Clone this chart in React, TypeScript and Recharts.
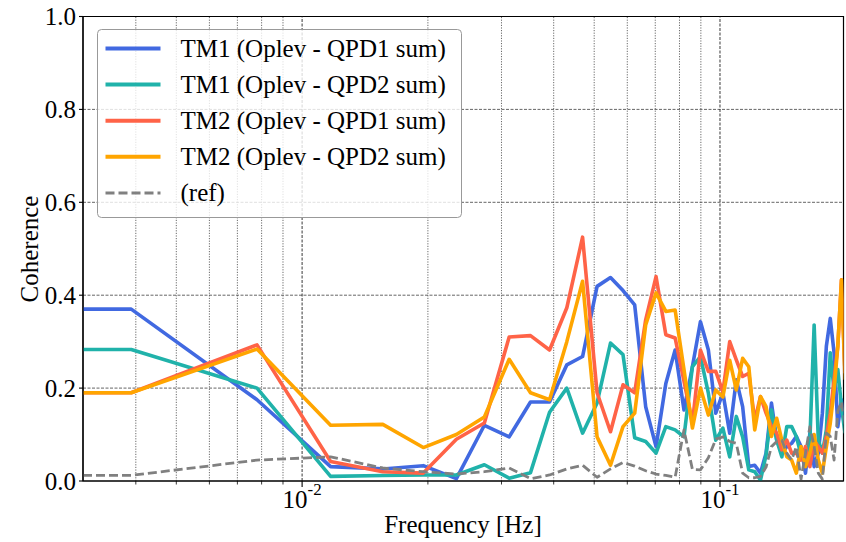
import React from "react";
import { LineChart, Line, XAxis, YAxis, CartesianGrid, ReferenceLine, ReferenceArea } from "recharts";

const FONT = "'Liberation Serif', serif";

// frequency bins (Hz); first entry is the left edge of the plot
const freqHz = [
  0.00299, 0.0039, 0.0078, 0.0117, 0.0156, 0.0195, 0.0234, 0.0273, 0.0313, 0.0352, 0.0391,
  0.043, 0.0469, 0.0508, 0.0547, 0.0586, 0.0625, 0.0664, 0.0703, 0.0742, 0.0781,
  0.082, 0.0859, 0.0898, 0.0938, 0.0977, 0.1016, 0.1055, 0.1094, 0.1133, 0.1172,
  0.1211, 0.125, 0.1289, 0.1328, 0.1367, 0.1406, 0.1445, 0.1484, 0.1523, 0.1563,
  0.1602, 0.1641, 0.168, 0.1719, 0.1758, 0.1797, 0.1836, 0.1875, 0.1914, 0.1953, 0.1992,
];

const tm1Qpd1 = [
  0.37, 0.37, 0.175, 0.031, 0.026, 0.033, 0.005, 0.12, 0.095, 0.17, 0.17,
  0.25, 0.268, 0.419, 0.438, 0.41, 0.379, 0.16, 0.074, 0.21, 0.282,
  0.153, 0.246, 0.343, 0.282, 0.146, 0.19, 0.103, 0.218, 0.16, 0.031,
  0.034, 0.017, 0.06, 0.168, 0.088, 0.06, 0.074, 0.081, 0.096, 0.074,
  0.017, 0.103, 0.031, 0.06, 0.146, 0.29, 0.35, 0.276, 0.117, 0.175, 0.131,
];

const tm1Qpd2 = [
  0.283, 0.283, 0.2, 0.01, 0.012, 0.013, 0.013, 0.035, 0.006, 0.018, 0.148,
  0.2, 0.103, 0.168, 0.297, 0.272, 0.093, 0.085, 0.06, 0.117, 0.11,
  0.095, 0.246, 0.268, 0.189, 0.088, 0.114, 0.052, 0.139, 0.095, 0.024,
  0.02, 0.002, 0.056, 0.153, 0.088, 0.052, 0.117, 0.117, 0.096, 0.056,
  0.042, 0.088, 0.336, 0.088, 0.06, 0.11, 0.276, 0.196, 0.24, 0.16, 0.103,
];

const tm2Qpd1 = [
  0.19, 0.19, 0.293, 0.042, 0.02, 0.017, 0.09, 0.125, 0.31, 0.313, 0.282,
  0.373, 0.525, 0.19, 0.106, 0.207, 0.19, 0.347, 0.44, 0.315, 0.308,
  0.215, 0.125, 0.282, 0.236, 0.236, 0.192, 0.3, 0.261, 0.225, 0.232,
  0.13, 0.182, 0.146, 0.117, 0.103, 0.067, 0.088, 0.06, 0.06, 0.045,
  0.074, 0.031, 0.088, 0.074, 0.06, 0.096, 0.146, 0.218, 0.29, 0.433, 0.232,
];

const tm2Qpd2 = [
  0.19, 0.19, 0.284, 0.12, 0.122, 0.072, 0.1, 0.138, 0.262, 0.19, 0.175,
  0.3, 0.43, 0.095, 0.034, 0.117, 0.146, 0.336, 0.405, 0.365, 0.368,
  0.24, 0.114, 0.2, 0.142, 0.196, 0.181, 0.26, 0.196, 0.264, 0.246,
  0.11, 0.182, 0.16, 0.096, 0.135, 0.088, 0.052, 0.045, 0.017, 0.074,
  0.031, 0.06, 0.1, 0.045, 0.017, 0.074, 0.124, 0.196, 0.29, 0.433, 0.218,
];

const refCoh = [
  0.012, 0.012, 0.045, 0.052, 0.028, 0.02, 0.015, 0.02, 0.028, 0.005, 0.013,
  0.026, 0.034, 0.008, 0.026, 0.04, 0.032, 0.022, 0.015, 0.012, 0.008,
  0.11, 0.025, 0.024, 0.05, 0.09, 0.095, 0.085, 0.081, 0.017, 0.007,
  0.007, 0.01, 0.03, 0.074, 0.085, 0.088, 0.06, 0.045, 0.074, 0.004,
  0.06, 0.117, 0.074, 0.017, 0.004, 0.103, 0.096, 0.045, 0.15, 0.17, 0.12,
];

const yTicks = [0, 0.2, 0.4, 0.6, 0.8, 1.0];
const yGridLines = [0.2, 0.4, 0.6, 0.8];
const xMajorTicks = [0.01, 0.1];
const xMinorTicks = [
  0.004, 0.005, 0.006, 0.007, 0.008, 0.009,
  0.02, 0.03, 0.04, 0.05, 0.06, 0.07, 0.08, 0.09,
];
const X_MIN = 0.00299;
const X_MAX = 0.1975;

const series = [
  { key: "tm1q1", name: "TM1 (Oplev - QPD1 sum)", color: "#4169E1", values: tm1Qpd1 },
  { key: "tm1q2", name: "TM1 (Oplev - QPD2 sum)", color: "#20B2AA", values: tm1Qpd2 },
  { key: "tm2q1", name: "TM2 (Oplev - QPD1 sum)", color: "#FF6347", values: tm2Qpd1 },
  { key: "tm2q2", name: "TM2 (Oplev - QPD2 sum)", color: "#FFA500", values: tm2Qpd2 },
  { key: "ref", name: "(ref)", color: "#808080", values: refCoh, dashed: true },
];

const data = freqHz.map((f, i) => {
  const row: Record<string, number> = { f };
  series.forEach((s) => (row[s.key] = s.values[i]));
  return row;
});

const textStyle = { fontFamily: FONT, fontSize: 25, fill: "#000" };

function XTick(props: any) {
  const { x, y, payload } = props;
  const v = payload.value;
  const major = xMajorTicks.includes(v);
  const exp = Math.round(Math.log10(v));
  return (
    <g>
      <line x1={x} x2={x} y1={y} y2={y + (major ? 6 : 3.5)} stroke="#000" strokeWidth={major ? 1.1 : 0.8} />
      {major && (
        <text x={x} y={y + 27} textAnchor="middle" style={textStyle}>
          10
          <tspan dy={-13} style={{ fontSize: 17 }}>
            {`-${Math.abs(exp)}`}
          </tspan>
        </text>
      )}
    </g>
  );
}

function Legend() {
  return (
    <svg
      width={366}
      height={190}
      style={{ position: "absolute", left: 96.5, top: 28.8, overflow: "visible" }}
    >
      <rect x={0.5} y={0.5} width={364} height={188} rx={4} fill="rgba(255,255,255,0.8)" stroke="#999" strokeWidth={1} />
      {series.map((s, i) => {
        const cy = 19.5 + i * 36.1;
        return (
          <g key={s.key}>
            <line
              x1={8.5}
              x2={63.5}
              y1={cy}
              y2={cy}
              stroke={s.color}
              strokeWidth={s.dashed ? 3 : 4}
              strokeDasharray={s.dashed ? "9 4" : undefined}
            />
            <text x={83.5} y={cy + 8.3} style={textStyle}>
              {s.name}
            </text>
          </g>
        );
      })}
    </svg>
  );
}

export default function App() {
  return (
    <div style={{ position: "absolute", left: 0, top: 0, width: 846, height: 542, background: "#fff" }}>
      <LineChart width={846} height={542} data={data} margin={{ top: 16.5, right: 2.5, bottom: 0, left: 0 }}>
        <CartesianGrid
          vertical={false}
          horizontalValues={yGridLines}
          stroke="#555"
          strokeWidth={0.9}
          strokeDasharray="3 1.5"
        />
        {xMinorTicks.map((t) => (
          <ReferenceLine key={t} x={t} stroke="#444" strokeWidth={0.8} strokeDasharray="1.2 1.4" />
        ))}
        {xMajorTicks.map((t) => (
          <ReferenceLine key={t} x={t} stroke="#222" strokeWidth={0.9} strokeDasharray="3 1.5" />
        ))}
        <XAxis
          dataKey="f"
          type="number"
          scale="log"
          domain={[X_MIN, X_MAX]}
          allowDataOverflow
          ticks={[...xMinorTicks, ...xMajorTicks].sort((a, b) => a - b)}
          interval={0}
          tick={<XTick />}
          tickLine={false}
          tickSize={0}
          tickMargin={0}
          height={61}
          axisLine={{ stroke: "#000", strokeWidth: 1.2 }}
          label={{
            content: () => (
              <text x={463} y={533} textAnchor="middle" style={textStyle}>
                Frequency [Hz]
              </text>
            ),
          }}
        />
        <YAxis
          type="number"
          domain={[0, 1]}
          allowDataOverflow
          ticks={yTicks}
          interval={0}
          width={83}
          tickSize={4}
          tickMargin={3}
          tickFormatter={(v: number) => v.toFixed(1)}
          tick={{ style: textStyle, fontSize: 25, fill: "#000" }}
          tickLine={{ stroke: "#000", strokeWidth: 1.1 }}
          axisLine={{ stroke: "#000", strokeWidth: 1.2 }}
          label={{
            content: () => (
              <text x={38} y={249} transform="rotate(-90 38 249)" textAnchor="middle" style={textStyle}>
                Coherence
              </text>
            ),
          }}
        />
        <ReferenceArea x1={X_MIN} x2={X_MAX} y1={0} y2={1} fill="none" stroke="#000" strokeWidth={1.2} />
        {series.map((s) => (
          <Line
            key={s.key}
            dataKey={s.key}
            name={s.name}
            stroke={s.color}
            strokeWidth={s.dashed ? 2.8 : 3.6}
            strokeDasharray={s.dashed ? "9 4" : undefined}
            strokeLinejoin="round"
            dot={false}
            activeDot={false}
            isAnimationActive={false}
          />
        ))}
      </LineChart>
      <Legend />
    </div>
  );
}
